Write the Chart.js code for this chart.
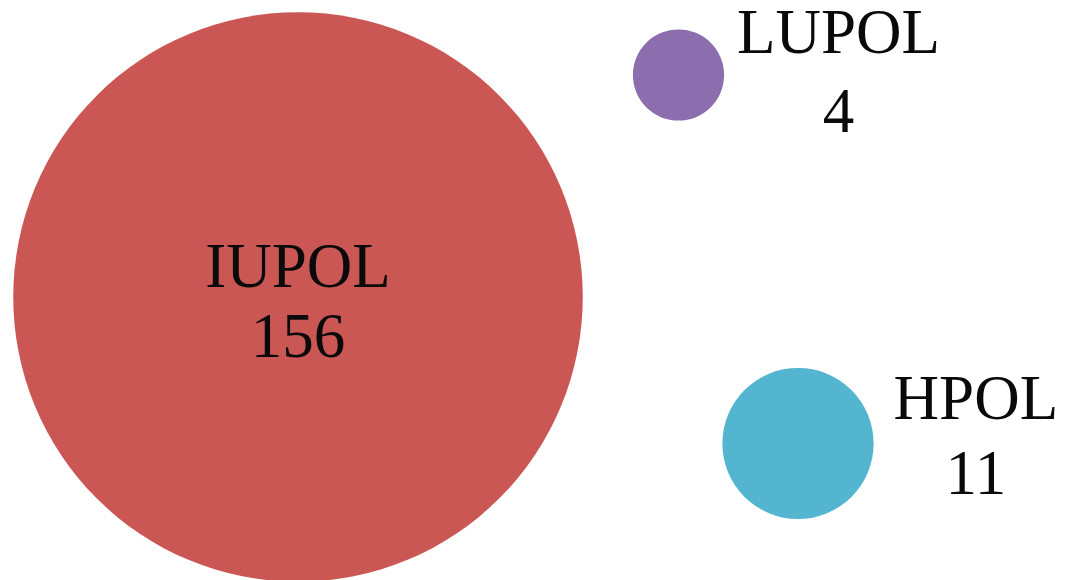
<!DOCTYPE html>
<html>
<head>
<meta charset="utf-8">
<script src="https://cdn.jsdelivr.net/npm/chart.js@4/dist/chart.umd.min.js"></script>
<style>
  html, body { margin: 0; padding: 0; background: #ffffff; }
  #wrap { width: 1074px; height: 580px; }
</style>
</head>
<body>
<div id="wrap"><canvas id="c" width="1074" height="580"></canvas></div>
<script>
// ---- data ----
const categories = ["IUPOL", "LUPOL", "HPOL"];
const counts = [156, 4, 11];
const xValues = [2.98, 6.785, 7.98];
const yValues = [2.83, 5.05, 1.365];
const colors = ["#CB5755", "#8C6DAD", "#53B5D0"];

// ---- presentation ----
const radiusPerSqrt = 22.8;          // bubble area proportional to count
const labelPlacement = ["center", "right", "right"];
const labelLine1Dy = [-10, -22, -25];
const labelLine2Dy = [60, 57, 50];
const labelGap = [0, 13, 20];
const labelFont = "63px 'Liberation Serif', 'DejaVu Serif', serif";

const bubbleData = categories.map((c, i) => ({ x: xValues[i], y: yValues[i], v: counts[i] }));

const labelPlugin = {
  id: 'bubbleLabels',
  afterDatasetsDraw(chart) {
    const ctx = chart.ctx;
    const meta = chart.getDatasetMeta(0);
    ctx.save();
    ctx.font = labelFont;
    ctx.fillStyle = '#0a0a0a';
    ctx.textBaseline = 'alphabetic';
    ctx.textAlign = 'center';
    meta.data.forEach((el, i) => {
      const r = el.options.radius;
      let cx = el.x;
      if (labelPlacement[i] === 'right') {
        const w = ctx.measureText(categories[i]).width;
        cx = el.x + r + labelGap[i] + w / 2;
      }
      ctx.fillText(categories[i], cx, el.y + labelLine1Dy[i]);
      ctx.fillText(String(counts[i]), cx, el.y + labelLine2Dy[i]);
    });
    ctx.restore();
  }
};

new Chart(document.getElementById('c'), {
  type: 'bubble',
  data: {
    datasets: [{
      data: bubbleData,
      backgroundColor: colors,
      borderWidth: 0,
      radius: (ctx) => radiusPerSqrt * Math.sqrt(counts[ctx.dataIndex]),
      hoverRadius: 0,
      clip: false
    }]
  },
  options: {
    responsive: false,
    animation: false,
    layout: { padding: 0, autoPadding: false },
    plugins: { legend: { display: false }, tooltip: { enabled: false } },
    scales: {
      x: { type: 'linear', min: 0, max: 10.74, display: false },
      y: { type: 'linear', min: 0, max: 5.8, display: false }
    }
  },
  plugins: [labelPlugin]
});
</script>
</body>
</html>
